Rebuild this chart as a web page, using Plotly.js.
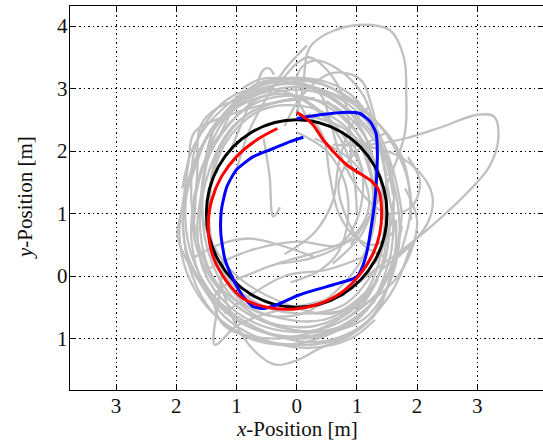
<!DOCTYPE html>
<html>
<head>
<meta charset="utf-8">
<script src="https://cdn.plot.ly/plotly-3.0.1.min.js"></script>
<style>html,body{margin:0;padding:0;overflow:hidden;background:#fff;}#chart{width:548px;height:443px;}</style>
</head>
<body>
<div id="chart"></div>
<script>
// Tick positions and labels (labels as printed in the reference, signs lost)
const xTickVals = [-3, -2, -1, 0, 1, 2, 3];
const xTickText = ['3', '2', '1', '0', '1', '2', '3'];
const yTickVals = [-1, 0, 1, 2, 3, 4];
const yTickText = ['1', '0', '1', '2', '3', '4'];

// Reference circle (points read on the black ring)
const circleX = [1.5, 1.3, 0.75, 0, -0.75, -1.3, -1.5, -1.3, -0.75, 0, 0.75, 1.3, 1.5];
const circleY = [1, 1.75, 2.3, 2.5, 2.3, 1.75, 1, 0.25, -0.3, -0.5, -0.3, 0.25, 1];

// Red trajectory
const redX = [0.0, 0.25, 0.44, 0.61, 0.83, 1.05, 1.25, 1.36, 1.41, 1.38, 1.27, 1.02, 0.72, 0.33, -0.06, -0.5, -0.89, -1.16, -1.39, -1.47, -1.41, -1.25, -1.0, -0.66, -0.32];
const redY = [2.62, 2.44, 2.18, 1.99, 1.78, 1.64, 1.51, 1.38, 1.06, 0.68, 0.36, -0.01, -0.28, -0.46, -0.53, -0.5, -0.36, -0.09, 0.31, 0.79, 1.22, 1.59, 1.91, 2.18, 2.36];

// Blue trajectory
const blueX = [0.0, 0.39, 0.83, 1.05, 1.22, 1.32, 1.34, 1.33, 1.30, 1.24, 1.16, 1.08, 1.0, 0.89, 0.61, 0.05, -0.33, -0.55, -0.72, -0.89, -1.05, -1.19, -1.26, -1.25, -1.16, -1.0, -0.72, -0.39, -0.11, 0.11];
const blueY = [2.52, 2.58, 2.62, 2.6, 2.47, 2.28, 1.96, 1.64, 1.22, 0.79, 0.36, 0.12, -0.01, -0.06, -0.14, -0.3, -0.46, -0.52, -0.49, -0.33, -0.06, 0.26, 0.68, 1.06, 1.43, 1.7, 1.91, 2.04, 2.15, 2.22];

// Gray trajectories ([x, y] pairs)
const grayTracks = [
  [[1.45,0.9],[1.35,1.7],[0.9,2.4],[0.2,2.85],[-0.6,2.8],[-1.25,2.3],[-1.65,1.5],[-1.7,0.6],[-1.3,-0.2],[-0.6,-0.7],[0.3,-0.8],[1.0,-0.45],[1.45,0.2],[1.55,1.0]],
  [[1.6,1.3],[1.3,2.3],[0.5,2.95],[-0.4,3.05],[-1.2,2.6],[-1.7,1.8],[-1.85,0.9],[-1.6,0.0],[-0.9,-0.75],[0.1,-1.0],[1.0,-0.7],[1.5,0.0],[1.75,0.8]],
  [[1.2,0.6],[1.25,1.5],[0.9,2.3],[0.2,2.7],[-0.6,2.65],[-1.2,2.1],[-1.45,1.2],[-1.35,0.3],[-0.8,-0.35],[0.0,-0.6],[0.8,-0.45],[1.3,0.1]],
  [[1.5,1.6],[1.1,2.6],[0.3,3.1],[-0.5,3.0],[-1.2,2.5],[-1.6,1.6],[-1.75,0.6],[-1.45,-0.3],[-0.7,-0.85],[0.3,-0.95],[1.1,-0.6],[1.55,0.3],[1.6,1.2]],
  [[1.9,0.9],[1.75,1.9],[1.1,2.65],[0.3,3.0],[-0.5,2.95],[-1.3,2.5],[-1.7,1.7],[-1.95,0.7],[-1.7,-0.2],[-1.05,-0.85],[-0.1,-1.1],[0.85,-0.95],[1.55,-0.3],[1.9,0.5]],
  [[1.35,1.2],[1.15,2.2],[0.55,2.75],[-0.25,2.8],[-1.0,2.45],[-1.45,1.7],[-1.6,0.7],[-1.3,-0.15],[-0.55,-0.6],[0.45,-0.7],[1.15,-0.25],[1.45,0.55]],
  [[0.0,2.6],[0.8,2.35],[1.35,1.7],[1.5,0.7],[1.25,-0.2],[0.6,-0.75],[-0.3,-1.0],[-1.2,-0.8],[-1.35,-0.3],[-0.6,0.1],[0.4,0.4],[1.0,0.6]],
  [[1.7,0.3],[1.9,1.2],[1.6,2.1],[0.95,2.8],[0.1,3.15],[-0.7,3.0],[-1.35,2.4],[-1.55,1.5],[-1.5,0.5],[-1.1,-0.3],[-0.3,-0.8],[0.6,-0.85],[1.3,-0.4]],
  [[1.1,1.7],[0.6,2.45],[-0.1,2.9],[-0.9,2.75],[-1.5,2.2],[-1.85,1.3],[-1.8,0.3],[-1.3,-0.4],[-0.5,-0.9],[0.4,-1.05],[1.2,-0.7],[1.6,0.1],[1.65,0.9]],
  [[1.3,0.2],[1.6,1.0],[1.5,1.9],[1.0,2.55],[0.3,2.95],[-0.5,2.9],[-1.1,2.45],[-1.5,1.8],[-1.55,0.9],[-1.1,0.1],[-0.3,-0.4],[0.6,-0.6],[1.1,-0.3]],
  [[0.9,1.9],[0.8,2.8],[0.5,3.3],[0.2,3.5],[0.0,3.4],[-0.3,3.1],[-0.7,2.9],[-1.3,2.7],[-1.6,2.4],[-1.65,1.7],[-1.7,0.9]],
  [[1.4,0.4],[1.5,1.4],[1.35,2.2],[1.1,2.9],[0.7,3.3],[0.3,3.45],[0.05,3.3],[0.0,2.9],[0.2,2.5]],
  [[-0.2,2.4],[0.1,2.9],[0.6,3.25],[1.05,3.15],[1.25,2.7],[1.4,2.0],[1.55,1.2],[1.65,0.5],[1.4,-0.2],[0.8,-0.7]],
  [[0.9,0.5],[1.3,1.1],[1.6,1.7],[1.8,2.3],[1.82,2.9],[1.78,3.5],[1.55,3.93],[1.1,4.02],[0.6,3.92],[0.25,3.7],[0.17,3.55],[0.1,3.0],[0.0,2.6]],
  [[0.6,2.1],[1.2,2.1],[1.8,2.2],[2.4,2.38],[3.0,2.58],[3.28,2.55],[3.35,2.2],[3.2,1.75],[2.8,1.3],[2.3,0.85],[1.8,0.45],[1.3,0.1],[0.9,-0.2]],
  [[-1.2,0.3],[-1.3,-0.4],[-1.36,-1.1],[-1.0,-0.8],[-0.5,-0.6],[0.2,-0.45],[0.8,-0.3]],
  [[-1.3,0.0],[-1.05,-0.7],[-0.7,-1.2],[-0.35,-1.42],[0.0,-1.35],[0.4,-1.15],[0.9,-0.95],[1.35,-0.55],[1.6,0.2]],
  [[-1.0,1.7],[-0.8,2.3],[-0.5,2.85],[-0.2,3.3],[0.17,3.69]],
  [[-1.1,2.0],[-0.85,2.6],[-0.65,3.1],[-0.55,3.3],[-0.45,3.32],[-0.38,3.22]],
  [[-1.3,2.2],[-0.9,2.9],[-0.6,3.1],[-0.28,3.14]],
  [[-0.55,2.2],[-0.45,1.6],[-0.39,0.95],[-0.28,1.1]],
  [[0.3,2.85],[-0.5,2.75],[-1.2,2.55],[-1.7,2.3],[-1.8,1.8],[-1.9,1.1],[-1.98,0.65],[-1.8,0.2],[-1.4,-0.4]],
  [[0.8,2.1],[1.5,2.0],[2.0,1.7],[2.25,1.3],[2.2,0.9],[1.9,0.5],[1.4,0.1]],
  [[0.3,-0.6],[1.0,-0.5],[1.6,-0.1],[1.9,0.4],[2.0,0.9],[1.8,1.4]],
  [[-1.5,0.1],[-0.8,0.4],[0.0,0.55],[0.7,0.5],[1.0,0.9],[1.1,1.6],[0.9,2.2]],
  [[-1.2,-0.6],[-0.2,0.0],[0.5,0.1],[1.1,0.3]],
  [[1.0,1.0],[0.9,1.8],[0.5,2.5],[-0.2,2.95],[-0.9,2.95],[-1.4,2.6],[-1.7,2.0],[-1.75,1.2]],
  [[-1.75,1.2],[-1.6,0.4],[-1.2,-0.3],[-0.5,-0.75],[0.4,-0.9],[1.1,-0.7],[1.5,-0.2],[1.7,0.5],[1.65,1.3],[1.4,2.0],[0.9,2.6],[0.3,3.0]],
  [[0.6,0.2],[1.1,0.7],[1.3,1.4],[1.2,2.1],[0.8,2.7],[0.2,3.05],[-0.4,3.1],[-1.0,2.8],[-1.4,2.3]],
  [[-1.4,2.3],[-1.55,1.5],[-1.65,0.8],[-1.55,0.1],[-1.1,-0.5],[-0.4,-0.85],[0.4,-0.85],[1.0,-0.55],[1.35,-0.05]],
  [[0.5,2.8],[1.0,2.3],[1.25,1.6],[1.3,0.9],[1.1,0.3],[0.7,-0.2],[0.1,-0.6],[-0.6,-0.6],[-1.1,-0.2],[-1.4,0.5],[-1.45,1.3],[-1.3,2.0],[-0.8,2.6],[0.0,2.85]],
  [[-1.9,1.4],[-1.7,2.1],[-1.2,2.7],[-0.5,3.1],[0.3,3.15],[0.9,2.9],[1.3,2.4],[1.6,1.7],[1.75,1.0]],
  [[1.75,1.0],[1.6,0.2],[1.2,-0.5],[0.5,-0.95],[-0.3,-1.1],[-1.0,-0.9],[-1.5,-0.45],[-1.8,0.2],[-1.9,0.9]],
  [[0.0,3.1],[0.4,2.9],[0.55,2.5],[0.7,2.0],[0.95,1.5],[1.2,1.2],[1.5,1.0],[1.9,1.1],[2.05,1.5],[1.85,1.9]],
  [[-0.9,3.0],[-0.6,3.15],[0.0,3.15],[0.5,3.05]],
  [[-1.6,-0.1],[-1.2,-0.65],[-0.6,-1.0],[0.2,-1.15],[0.9,-1.0],[1.3,-0.7]],
  [[-0.2,0.35],[0.3,0.7],[0.6,1.2],[0.7,1.8],[0.9,2.4],[1.2,2.7]],
  [[-1.7,0.3],[-1.3,0.5],[-0.8,0.6],[-0.3,0.5],[0.3,0.3]],
  [[0.0,2.3],[0.5,2.0],[0.8,1.5],[0.85,0.9],[0.7,0.4],[0.4,0.1],[-0.1,-0.1]],
  [[0.2,2.6],[0.45,2.2],[0.55,1.6],[0.7,1.0],[1.0,0.6],[1.3,0.5],[1.6,0.7]],
  [[-0.3,0.2],[0.3,0.3],[0.9,0.6],[1.2,1.1],[1.05,1.7],[0.7,2.0],[0.3,2.2]],
  [[1.5,2.3],[1.0,2.0],[0.7,1.5],[0.8,1.0],[1.1,0.5],[1.5,0.3]]
];

const serif = 'Liberation Serif, DejaVu Serif, serif';
const traces = [];
grayTracks.forEach(function (tr) {
  traces.push({
    x: tr.map(function (p) { return p[0]; }),
    y: tr.map(function (p) { return p[1]; }),
    type: 'scatter', mode: 'lines',
    line: {color: '#c0c0c0', width: 2.3, shape: 'spline', smoothing: 1},
    hoverinfo: 'skip', showlegend: false
  });
});
traces.push({x: circleX, y: circleY, type: 'scatter', mode: 'lines',
  line: {color: '#000000', width: 3, shape: 'spline', smoothing: 1}, showlegend: false});
traces.push({x: blueX, y: blueY, type: 'scatter', mode: 'lines',
  line: {color: '#0000ff', width: 3, shape: 'spline', smoothing: 0.6}, showlegend: false});
traces.push({x: redX, y: redY, type: 'scatter', mode: 'lines',
  line: {color: '#ff0000', width: 3, shape: 'spline', smoothing: 1}, showlegend: false});

const axisCommon = {
  showline: true, linecolor: '#000', linewidth: 1.2, mirror: 'ticks',
  ticks: 'inside', ticklen: 5, tickcolor: '#000', tickwidth: 1,
  showgrid: true, gridcolor: '#000', gridwidth: 1, griddash: '1.5px,3px',
  zeroline: false, tickmode: 'array',
  tickfont: {family: serif, size: 21, color: '#111'}
};

const layout = {
  width: 548, height: 443,
  margin: {l: 70, r: 3, t: 6, b: 53},
  paper_bgcolor: '#fff', plot_bgcolor: '#fff',
  showlegend: false,
  xaxis: Object.assign({}, axisCommon, {range: [-3.766, 4.125], tickvals: xTickVals, ticktext: xTickText, ticklabelstandoff: -3}),
  yaxis: Object.assign({}, axisCommon, {range: [-1.824, 4.32], tickvals: yTickVals, ticktext: yTickText, ticklabelstandoff: -3}),
  annotations: [
    {text: '<i>x</i>-Position [m]', xref: 'x', x: 0, yref: 'paper', y: 0, yanchor: 'top', yshift: -25,
     showarrow: false, font: {family: serif, size: 21, color: '#111'}},
    {text: '<i>y</i>-Position [m]', xref: 'paper', x: 0, xanchor: 'center', xshift: -45, yref: 'paper', y: 0.5,
     textangle: -90, showarrow: false, font: {family: serif, size: 21, color: '#111'}}
  ]
};

Plotly.newPlot('chart', traces, layout, {staticPlot: true, displayModeBar: false});
</script>
</body>
</html>
